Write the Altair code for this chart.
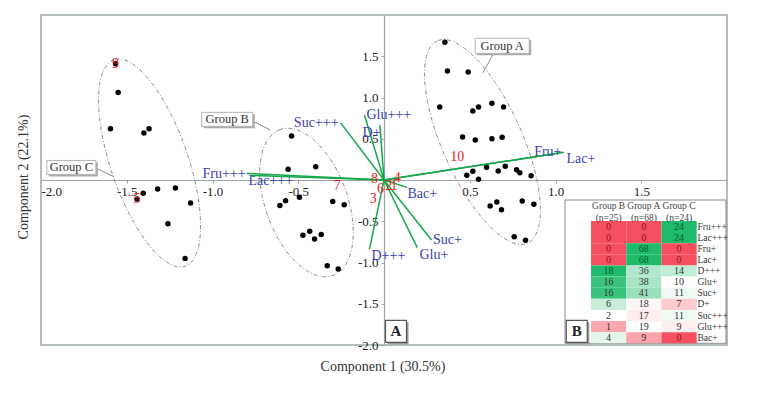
import altair as alt
import numpy as np
import pandas as pd

W, H = 686, 330
KX, KY = W / 4.0, H / 4.0   # pixels per data unit

SERIF = "Liberation Serif"
FRAME = "#9aa8a4"
RED_TXT = "#ee1c25"
BLUE_TXT = "#3a3db3"
GREEN_LN = "#14a84a"

# ---------------- data: PCA scores ----------------
pts_x = [
    # group C
    -1.565, -1.55, -1.595, -1.40, -1.37, -1.404, -1.44, -1.32, -1.216, -1.128, -1.26, -1.16,
    # group B
    -0.539, -0.559, -0.398, -0.607, -0.574, -0.493, -0.299, -0.232, -0.473, -0.433, -0.405, -0.366, -0.331, -0.267,
    # group A
    0.355, 0.370, 0.491, 0.325, 0.518, 0.551, 0.629, 0.697, 0.458, 0.532, 0.629, 0.689,
    0.598, 0.666, 0.707, 0.773, 0.792, 0.858, 0.483, 0.518, 0.551,
    0.619, 0.658, 0.685, 0.806, 0.874, 0.759, 0.825,
]
pts_y = [
    1.41, 1.06, 0.62, 0.57, 0.62, -0.16, -0.23, -0.11, -0.097, -0.28, -0.53, -0.95,
    0.533, 0.13, 0.16, -0.31, -0.25, -0.21, -0.26, -0.30, -0.67, -0.62, -0.715, -0.66, -1.04, -1.08,
    1.67, 1.32, 1.31, 0.885, 0.836, 0.885, 0.93, 0.885, 0.52, 0.485, 0.50, 0.517,
    0.154, 0.109, 0.166, 0.125, 0.089, 0.052, 0.057, 0.105, 0.008,
    -0.315, -0.267, -0.36, -0.255, -0.295, -0.687, -0.73,
]

# red sample numbers
num_lab = ["1", "2", "3", "4", "5", "6", "7", "8", "9", "10"]
num_x = [0.058, 0.028, -0.063, 0.077, -1.44, -0.02, -0.273, -0.055, -1.565, 0.427]
num_y = [-0.07, -0.07, -0.23, 0.024, -0.23, -0.11, -0.07, 0.012, 1.41, 0.28]

# loading vectors
var_names = ["Fru+++", "Lac+++", "Suc+++", "Glu+++", "D+", "Fru+", "Lac+", "Bac+", "Suc+", "Glu+", "D+++"]
var_end_x = [-0.80, -0.77, -0.254, -0.114, -0.024, 1.049, 1.03, 0.135, 0.277, 0.194, -0.085]
var_end_y = [0.08, 0.055, 0.695, 0.788, 0.667, 0.336, 0.33, -0.089, -0.727, -0.82, -0.84]
var_lab_x = [-0.807, -0.79, -0.265, -0.102, -0.02, 1.035, 1.064, 0.137, 0.286, 0.207, -0.073]
var_lab_y = [0.073, -0.012, 0.69, 0.788, 0.57, 0.34, 0.255, -0.17, -0.727, -0.909, -0.92]
var_side = ["right", "left", "right", "left", "right", "right", "left", "left", "left", "left", "left"]

# group ellipses (centre in data units, tilt in degrees, semi-axes in px)
ell_names = ["A", "B", "C"]
ell_cx = [0.574, -0.452, -1.367]
ell_cy = [0.461, -0.273, 0.206]
ell_ang = [114, 110, 109]
ell_a = [110.7, 77.6, 109.2]
ell_b = [40, 41, 38.7]

# group annotation labels
grp_names = ["Group A", "Group B", "Group C"]
grp_tx = [0.689, -0.914, -1.823]
grp_ty = [1.627, 0.735, 0.152]
grp_hw = [27, 25.5, 24.5]
grp_hh = [7.5, 7, 7]
lead_x1 = [0.640, -0.778, -1.697]
lead_y1 = [1.539, 0.727, 0.161]
lead_x2 = [0.577, -0.662, -1.574]
lead_y2 = [1.30, 0.606, 0.04]

# panel letters
panel_lab = ["A", "B"]
panel_x = [0.07, 1.124]
panel_y = [-1.834, -1.834]

# table (panel B)
tbl_rows = ["Fru+++", "Lac+++", "Fru+", "Lac+", "D+++", "Glu+", "Suc+", "D+", "Suc+++", "Glu+++", "Bac+"]
tbl_cols = ["Group B", "Group A", "Group C"]
tbl_n = [25, 68, 24]
col_B = [0, 0, 0, 0, 18, 16, 16, 6, 2, 1, 4]
col_A = [0, 0, 68, 68, 36, 38, 41, 18, 17, 19, 9]
col_C = [24, 24, 0, 0, 14, 10, 11, 7, 11, 9, 0]

xticks = [-2.0, -1.5, -1.0, -0.5, 0.5, 1.0, 1.5]
yticks = [-2.0, -1.5, -1.0, -0.5, 0.5, 1.0, 1.5]

# ---------------- frames ----------------
df_pts = pd.DataFrame({"x": pts_x, "y": pts_y})
df_num = pd.DataFrame({"lab": num_lab, "x": num_x, "y": num_y})

rows = []
for i, v in enumerate(var_names):
    rows.append({"var": v, "o": 0, "x": 0.0, "y": 0.0})
    rows.append({"var": v, "o": 1, "x": var_end_x[i], "y": var_end_y[i]})
df_vec = pd.DataFrame(rows)
df_vlab = pd.DataFrame({"var": var_names, "x": var_lab_x, "y": var_lab_y, "side": var_side})

t = np.linspace(0, 2 * np.pi, 121)
erows = []
for k, g in enumerate(ell_names):
    phi = np.deg2rad(ell_ang[k])
    ux, uy = np.cos(phi), np.sin(phi)
    vx, vy = -uy, ux
    px = ell_a[k] * np.cos(t) * ux + ell_b[k] * np.sin(t) * vx
    py = ell_a[k] * np.cos(t) * uy + ell_b[k] * np.sin(t) * vy
    for i in range(len(t)):
        erows.append({"g": g, "i": i, "x": ell_cx[k] + px[i] / KX, "y": ell_cy[k] + py[i] / KY})
df_ell = pd.DataFrame(erows)

df_grp = pd.DataFrame({
    "name": grp_names, "x": grp_tx, "y": grp_ty,
    "x0": [grp_tx[i] - grp_hw[i] / KX for i in range(3)],
    "x1": [grp_tx[i] + grp_hw[i] / KX for i in range(3)],
    "y0": [grp_ty[i] - grp_hh[i] / KY for i in range(3)],
    "y1": [grp_ty[i] + grp_hh[i] / KY for i in range(3)],
})
df_grp["sx0"] = df_grp["x0"] + 2 / KX
df_grp["sx1"] = df_grp["x1"] + 2 / KX
df_grp["sy0"] = df_grp["y0"] - 2 / KY
df_grp["sy1"] = df_grp["y1"] - 2 / KY
df_lead = pd.DataFrame({"x": lead_x1, "y": lead_y1, "x2": lead_x2, "y2": lead_y2})

df_panel = pd.DataFrame({"lab": panel_lab, "x": panel_x, "y": panel_y})
df_panel["x0"] = df_panel["x"] - 10.5 / KX
df_panel["x1"] = df_panel["x"] + 10.5 / KX
df_panel["y0"] = df_panel["y"] - 11 / KY
df_panel["y1"] = df_panel["y"] + 11 / KY
df_panel["sx0"] = df_panel["x0"] + 2 / KX
df_panel["sx1"] = df_panel["x1"] + 2 / KX
df_panel["sy0"] = df_panel["y0"] - 2 / KY
df_panel["sy1"] = df_panel["y1"] - 2 / KY

trows = []
for c, vals in zip(tbl_cols, [col_B, col_A, col_C]):
    lo, med, hi = min(vals), float(np.median(vals)), max(vals)
    for r, v in zip(tbl_rows, vals):
        if v <= med:
            tt = 0.5 * (v - lo) / (med - lo) if med > lo else 0.5
        else:
            tt = 0.5 + 0.5 * (v - med) / (hi - med)
        kind = "lo" if tt <= 0.05 else ("hi" if tt >= 0.95 else "mid")
        trows.append({"col": c, "row": r, "v": v, "t": tt, "kind": kind})
df_tbl = pd.DataFrame(trows)
df_head = pd.DataFrame({"col": tbl_cols, "n": ["(n=%d)" % n for n in tbl_n]})
df_rowlab = pd.DataFrame({"row": tbl_rows})
df_one = pd.DataFrame({"k": [0]})

# ---------------- scales / axes ----------------
xs = alt.Scale(domain=[-2, 2], nice=False, zero=False)
ys = alt.Scale(domain=[-2, 2], nice=False, zero=False)
lab_expr = "datum.value < 0 ? '-' + format(-datum.value, '.1f') : format(datum.value, '.1f')"
xaxis = alt.Axis(values=xticks, offset=-H / 2, title=None, grid=False, labelExpr=lab_expr,
                 tickSize=3, labelPadding=2, labelFont=SERIF, labelFontSize=13, labelColor="#222",
                 domainColor=FRAME, tickColor=FRAME, domainWidth=1.2, labelFlush=True, labelOverlap=False)
yaxis = alt.Axis(values=yticks, offset=-W / 2, title=None, grid=False, labelExpr=lab_expr,
                 tickSize=3, labelPadding=3, labelFont=SERIF, labelFontSize=13, labelColor="#222",
                 domainColor=FRAME, tickColor=FRAME, domainWidth=1.2, labelFlush=False, labelOverlap=False)


def X(f, axis=True):
    return alt.X(f, type="quantitative", scale=xs, axis=xaxis if axis else None)


def Y(f, axis=True):
    return alt.Y(f, type="quantitative", scale=ys, axis=yaxis if axis else None)


ellipses = alt.Chart(df_ell).mark_line(color="#8c8c8c", strokeWidth=1, strokeDash=[4, 2, 1, 2]).encode(
    x=X("x"), y=Y("y"), detail="g:N", order="i:Q")

leaders = alt.Chart(df_lead).mark_rule(color="#8c8c8c", strokeWidth=1).encode(
    x=X("x"), y=Y("y"), x2="x2:Q", y2="y2:Q")

grp_shadow = alt.Chart(df_grp).mark_rect(color="#a9a9a9").encode(
    x=X("sx0"), x2="sx1:Q", y=Y("sy0"), y2="sy1:Q")
grp_box = alt.Chart(df_grp).mark_rect(fill="white", stroke="#b5b5b5", strokeWidth=1).encode(
    x=X("x0"), x2="x1:Q", y=Y("y0"), y2="y1:Q")
grp_text = alt.Chart(df_grp).mark_text(font=SERIF, fontSize=12.5, color="#333", baseline="middle").encode(
    x=X("x"), y=Y("y"), text="name:N")

points = alt.Chart(df_pts).mark_circle(size=30, color="black", opacity=1).encode(x=X("x"), y=Y("y"))

vectors = alt.Chart(df_vec).mark_line(color=GREEN_LN, strokeWidth=1.5).encode(
    x=X("x"), y=Y("y"), detail="var:N", order="o:Q")

vlab_r = alt.Chart(df_vlab).transform_filter("datum.side == 'right'").mark_text(
    font=SERIF, fontSize=14, color=BLUE_TXT, align="right", baseline="middle").encode(
    x=X("x"), y=Y("y"), text="var:N")
vlab_l = alt.Chart(df_vlab).transform_filter("datum.side == 'left'").mark_text(
    font=SERIF, fontSize=14, color=BLUE_TXT, align="left", baseline="middle").encode(
    x=X("x"), y=Y("y"), text="var:N")

nums = alt.Chart(df_num).mark_text(font=SERIF, fontSize=14, color=RED_TXT, baseline="middle").encode(
    x=X("x"), y=Y("y"), text="lab:N")

xtitle = alt.Chart(df_one).mark_text(font=SERIF, fontSize=14, color="#333", text="Component 1 (30.5%)").encode(
    x=alt.value(342), y=alt.value(352))
ytitle = alt.Chart(df_one).mark_text(font=SERIF, fontSize=14, color="#333", angle=270,
                                     text="Component 2 (22.1%)").encode(x=alt.value(-17), y=alt.value(162))

main = alt.layer(ellipses, leaders, grp_shadow, grp_box, grp_text, points, vectors,
                 vlab_r, vlab_l, nums, xtitle, ytitle)

# ---------------- table panel ----------------
cx = alt.Scale(domain=tbl_cols, range=[550, 655.7], paddingInner=0, paddingOuter=0)
ry = alt.Scale(domain=tbl_rows, range=[206, 328.3], paddingInner=0, paddingOuter=0)

tbl_frame = alt.Chart(df_one).mark_rect(fill="white", stroke="#8a8a8a", strokeWidth=1).encode(
    x=alt.value(524), x2=alt.value(685), y=alt.value(185), y2=alt.value(328.3))
cells = alt.Chart(df_tbl).mark_rect().encode(
    x=alt.X("col:N", scale=cx, axis=None),
    y=alt.Y("row:N", scale=ry, axis=None),
    color=alt.Color("t:Q", scale=alt.Scale(domain=[0, 0.5, 1], range=["#f5505f", "#ffffff", "#1dbb6b"],
                                           interpolate="rgb"), legend=None))


def cell_text(kind, col):
    return alt.Chart(df_tbl).transform_filter("datum.kind == '%s'" % kind).mark_text(
        font=SERIF, fontSize=10, baseline="middle", color=col).encode(
        x=alt.X("col:N", scale=cx, axis=None),
        y=alt.Y("row:N", scale=ry, axis=None),
        text="v:Q")


head1 = alt.Chart(df_head).mark_text(font=SERIF, fontSize=9.5, color="#444", baseline="middle").encode(
    x=alt.X("col:N", scale=cx, axis=None), y=alt.value(190.5), text="col:N")
head2 = alt.Chart(df_head).mark_text(font=SERIF, fontSize=9.5, color="#444", baseline="middle").encode(
    x=alt.X("col:N", scale=cx, axis=None), y=alt.value(202.5), text="n:N")
rowlab = alt.Chart(df_rowlab).mark_text(font=SERIF, fontSize=9.5, color="#333", align="left",
                                        baseline="middle").encode(
    x=alt.value(656.5), y=alt.Y("row:N", scale=ry, axis=None), text="row:N")

table = alt.layer(tbl_frame, cells, cell_text("lo", "#8e1520"), cell_text("hi", "#0d5a30"),
                  cell_text("mid", "#333333"), head1, head2, rowlab)

# ---------------- panel letters ----------------
pan_shadow = alt.Chart(df_panel).mark_rect(color="#9a9a9a").encode(
    x=X("sx0", False), x2="sx1:Q", y=Y("sy0", False), y2="sy1:Q")
pan_box = alt.Chart(df_panel).mark_rect(fill="white", stroke="#555", strokeWidth=1.2).encode(
    x=X("x0", False), x2="x1:Q", y=Y("y0", False), y2="y1:Q")
pan_txt = alt.Chart(df_panel).mark_text(font=SERIF, fontSize=15, fontWeight="bold", color="#222",
                                        baseline="middle").encode(
    x=X("x", False), y=Y("y", False), text="lab:N")
letters = alt.layer(pan_shadow, pan_box, pan_txt)

chart = alt.layer(main, table, letters).resolve_scale(
    x="independent", y="independent"
).properties(
    width=W, height=H, autosize="none",
    padding={"left": 33, "top": 7, "right": 20, "bottom": 30},
    background="white",
).configure_view(stroke=FRAME, strokeWidth=1.5)

chart.save("out.html", embed_options={"renderer": "svg", "actions": False})
